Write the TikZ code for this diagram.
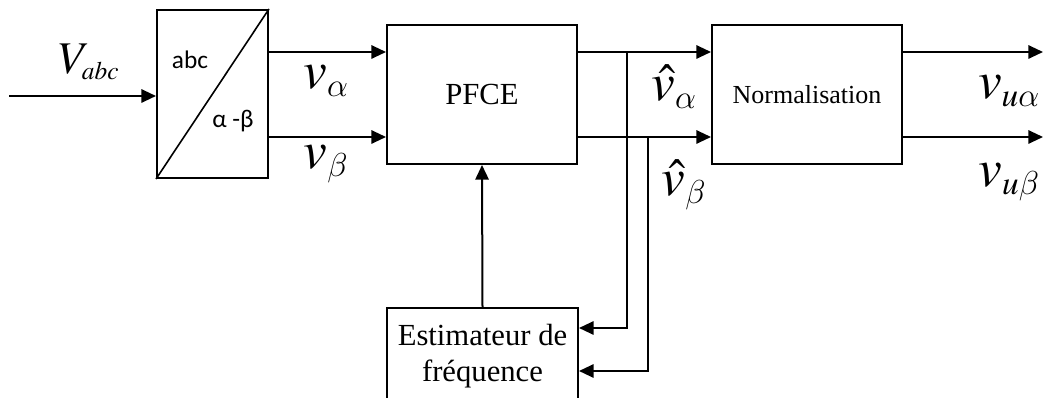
\documentclass[tikz,border=0pt]{standalone}
\usepackage{mathptmx}
\DeclareSymbolFont{lmletters}{OML}{lmm}{m}{it}
\DeclareMathSymbol{\alpha}{\mathord}{lmletters}{"0B}
\DeclareMathSymbol{\beta}{\mathord}{lmletters}{"0C}
\usepackage{fontspec}
\setmainfont{Liberation Serif}
\newfontfamily\calib{Carlito}
\DeclareMathSizes{40}{40}{25}{18}
\DeclareMathSizes{34}{34}{19}{14}
\usetikzlibrary{arrows.meta}

\begin{document}
\begin{tikzpicture}[x=0.75pt,y=-0.75pt,line width=1.5pt,
  block/.style={draw,minimum width=142.5pt,minimum height=104.25pt,inner sep=0pt},
  sig/.style={-{Triangle[length=11pt,width=10pt]}},
  sym/.style={font=\fontsize{40}{40}\selectfont,inner sep=0pt}]
  \useasboundingbox (0,0) rectangle (1043,398);
  % levels of the two signal lines
  \coordinate (ya) at (0,52);
  \coordinate (yb) at (0,137);
  % abc -> alpha-beta block
  \node[draw,minimum width=83.25pt,minimum height=126pt,inner sep=0pt] (conv) at (212.5,94) {};
  \draw[line width=1.2pt] (conv.south west) -- (conv.north east);
  \node[font=\calib\fontsize{19}{19}\selectfont] (abc) at (190,60) {abc};
  \node[font=\calib\fontsize{19}{19}\selectfont] (ab) at (233,121) {α -β};
  % main blocks
  \node[block,font=\fontsize{23}{23}\selectfont] (pfce) at (482,94.5) {PFCE};
  \node[block,font=\fontsize{19.5}{19.5}\selectfont] (norm) at (807,94.5) {Normalisation};
  \node[draw,anchor=north,minimum width=143.25pt,minimum height=72pt,inner sep=0pt,
    align=center,font=\fontsize{23}{27}\selectfont] (estim) at (482.5,307) {Estimateur de\\fréquence};
  % input
  \coordinate (inp) at (9,96);
  \draw[sig] (inp) -- (conv.west |- inp);
  \node[font=\fontsize{34}{34}\selectfont,inner sep=0pt] (vabc) at (89,62) {$V_{abc}$};
  % alpha-beta signals
  \draw[sig] (conv.east |- ya) -- (pfce.west |- ya);
  \draw[sig] (conv.east |- yb) -- (pfce.west |- yb);
  \node[sym] (va) at (326,81) {$v_\alpha$};
  \node[sym] (vb) at (326,164) {$v_\beta$};
  % filtered signals
  \draw[sig] (pfce.east |- ya) -- (norm.west |- ya);
  \draw[sig] (pfce.east |- yb) -- (norm.west |- yb);
  \node[sym] (vha) at (674,87) {$\hat{v}_\alpha$};
  \node[sym] (vhb) at (684,185) {$\hat{v}_\beta$};
  % branches to the frequency estimator
  \coordinate (ba) at (627,52);
  \coordinate (bb) at (648,137);
  \coordinate (ein1) at (0,328);
  \coordinate (ein2) at (0,371);
  \draw[sig] (ba) |- (estim.east |- ein1);
  \draw[sig] (bb) |- (estim.east |- ein2);
  \draw[sig] (estim.north) -- (pfce.south);
  % outputs
  \coordinate (outa) at (1043,52);
  \coordinate (outb) at (1043,137);
  \draw[sig] (norm.east |- ya) -- (outa);
  \draw[sig] (norm.east |- yb) -- (outb);
  \node[sym] (vua) at (1009,91) {$v_{u\alpha}$};
  \node[sym] (vub) at (1009,182) {$v_{u\beta}$};
\end{tikzpicture}
\end{document}
